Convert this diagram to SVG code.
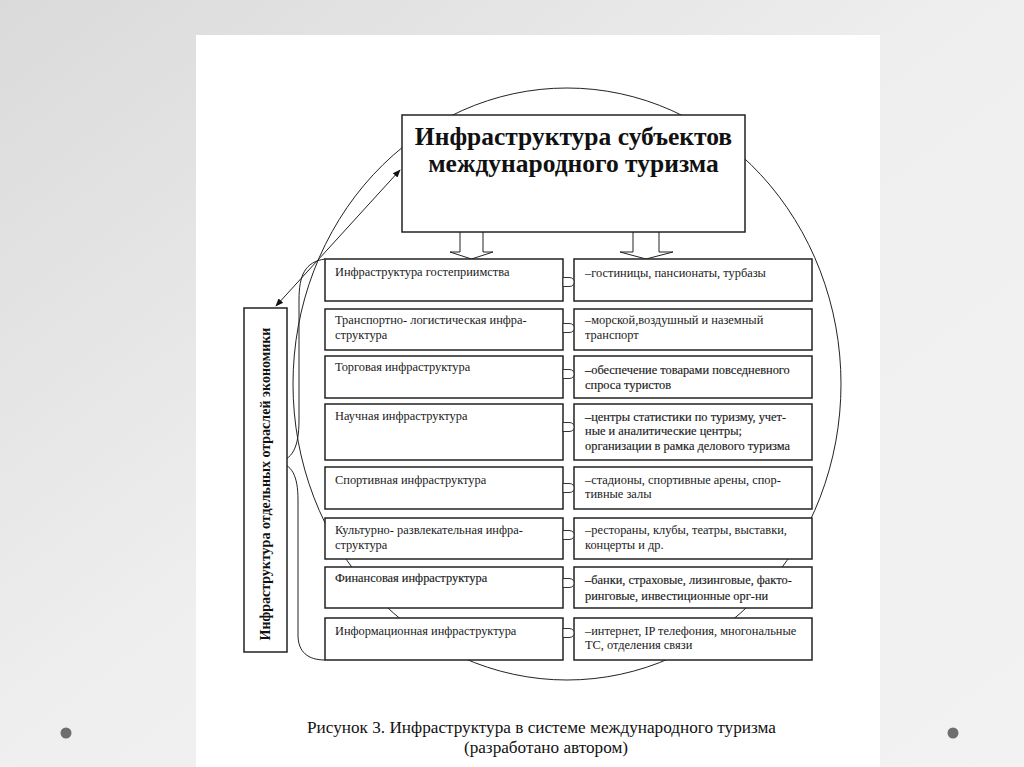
<svg xmlns="http://www.w3.org/2000/svg" width="1024" height="767" viewBox="0 0 1024 767">
  <defs>
    <linearGradient id="bg" x1="0" y1="0" x2="1" y2="1">
      <stop offset="0" stop-color="#dadada"/>
      <stop offset="0.5" stop-color="#efefef"/>
      <stop offset="1" stop-color="#f2f2f2"/>
    </linearGradient>
    <marker id="ah" viewBox="0 0 10 10" refX="9" refY="5" markerWidth="8" markerHeight="8" orient="auto-start-reverse" markerUnits="userSpaceOnUse">
      <path d="M0,1 L10,5 L0,9 Z" fill="#111"/>
    </marker>
    <style>
      .box { fill: #ffffff; stroke: #222; stroke-width: 1.5; }
      .tab { fill: #ffffff; stroke: #333; stroke-width: 1; }
      .ln { fill: none; stroke: #222; stroke-width: 1; }
      .t { font-family: "Liberation Serif", "Times New Roman", serif; font-size: 12.4px; fill: #1a1a1a; }
      .dk { stroke: #1a1a1a; stroke-width: 0.15; }
      .title { font-family: "Liberation Serif", "Times New Roman", serif; font-size: 25.5px; font-weight: bold; fill: #111; text-anchor: middle; }
      .vt { font-family: "Liberation Serif", "Times New Roman", serif; font-size: 14px; font-weight: bold; fill: #111; text-anchor: middle; }
      .cap { font-family: "Liberation Serif", "Times New Roman", serif; font-size: 17.2px; fill: #111; text-anchor: middle; }
    </style>
  </defs>

  <rect x="0" y="0" width="1024" height="767" fill="url(#bg)"/>
  <rect x="196" y="35" width="684" height="732" fill="#ffffff"/>
  <circle cx="66" cy="733" r="5.5" fill="#6e6e6e"/>
  <circle cx="953" cy="733" r="5.5" fill="#6e6e6e"/>

  <g id="connectors">
    <ellipse cx="567" cy="384" rx="274" ry="296" class="ln"/>
    <path class="ln" d="M325,259 C305,262 299,275 299,300 L299,420 C299,448 292,460 277,462"/>
    <path class="ln" d="M277,462 C292,464 298,476 298,500 L298,635 C298,652 308,660 325,660"/>
    <line class="ln" x1="400" y1="170" x2="276" y2="306" marker-start="url(#ah)" marker-end="url(#ah)"/>
    <path class="ln" d="M460,232 V252 H450 L471.5,259 L493,252 H483 V232" fill="#fff"/>
    <path class="ln" d="M633,232 V252 H620 L646,259 L673,252 H659 V232" fill="#fff"/>
  </g>

  <g id="top">
    <rect class="box" x="402" y="115" width="343" height="117"/>
    <text class="title" x="573.5" y="145">Инфраструктура субъектов</text>
    <text class="title" x="573.5" y="172">международного туризма</text>
  </g>

  <g id="side">
    <rect class="box" x="244" y="308" width="43" height="344"/>
    <text class="vt" transform="translate(270,484) rotate(-90)">Инфраструктура отдельных отраслей экономики</text>
  </g>

  <g id="row1">
    <rect class="box" x="325" y="259" width="238" height="42"/>
    <rect class="box" x="574" y="259" width="238" height="42"/>
    <path class="tab" d="M563,277.5 H569 Q574,277.5 574,282 Q574,286.5 569,286.5 H563 Z"/>
    <text class="t" x="335" y="275.5">Инфраструктура гостеприимства</text>
    <text class="t" x="585" y="276.5">–гостиницы, пансионаты, турбазы</text>
  </g>
  <g id="row2">
    <rect class="box" x="325" y="309" width="238" height="41"/>
    <rect class="box" x="574" y="309" width="238" height="41"/>
    <path class="tab" d="M563,323.5 H569 Q574,323.5 574,328 Q574,332.5 569,332.5 H563 Z"/>
    <text class="t" x="335" y="324">Транспортно- логистическая инфра-</text>
    <text class="t" x="335" y="338.5">структура</text>
    <text class="t" x="585" y="324">–морской,воздушный и наземный</text>
    <text class="t" x="585" y="338.5">транспорт</text>
  </g>
  <g id="row3">
    <rect class="box" x="325" y="356" width="238" height="42"/>
    <rect class="box" x="574" y="356" width="238" height="42"/>
    <path class="tab" d="M563,369.5 H569 Q574,369.5 574,374 Q574,378.5 569,378.5 H563 Z"/>
    <text class="t" x="335" y="371">Торговая инфраструктура</text>
    <text class="t dk" x="585" y="374">–обеспечение товарами повседневного</text>
    <text class="t dk" x="585" y="388.5">спроса туристов</text>
  </g>
  <g id="row4">
    <rect class="box" x="325" y="404" width="238" height="56"/>
    <rect class="box" x="574" y="404" width="238" height="56"/>
    <path class="tab" d="M563,422.5 H569 Q574,422.5 574,427 Q574,431.5 569,431.5 H563 Z"/>
    <text class="t" x="335" y="420">Научная инфраструктура</text>
    <text class="t dk" x="585" y="420.5">–центры статистики по туризму, учет-</text>
    <text class="t dk" x="585" y="435">ные и аналитические центры;</text>
    <text class="t dk" x="585" y="449.5">организации в рамка делового туризма</text>
  </g>
  <g id="row5">
    <rect class="box" x="325" y="467" width="238" height="42"/>
    <rect class="box" x="574" y="467" width="238" height="42"/>
    <path class="tab" d="M563,483.5 H569 Q574,483.5 574,488 Q574,492.5 569,492.5 H563 Z"/>
    <text class="t" x="335" y="483.5">Спортивная инфраструктура</text>
    <text class="t" x="585" y="483.5">–стадионы, спортивные арены, спор-</text>
    <text class="t" x="585" y="498">тивные залы</text>
  </g>
  <g id="row6">
    <rect class="box" x="325" y="518" width="238" height="41"/>
    <rect class="box" x="574" y="518" width="238" height="41"/>
    <path class="tab" d="M563,530.5 H569 Q574,530.5 574,535 Q574,539.5 569,539.5 H563 Z"/>
    <text class="t" x="335" y="533.5">Культурно- развлекательная инфра-</text>
    <text class="t" x="335" y="549">структура</text>
    <text class="t" x="585" y="533.5">–рестораны, клубы, театры, выставки,</text>
    <text class="t" x="585" y="549">концерты и др.</text>
  </g>
  <g id="row7">
    <rect class="box" x="325" y="567" width="238" height="41"/>
    <rect class="box" x="574" y="567" width="238" height="41"/>
    <path class="tab" d="M563,578.5 H569 Q574,578.5 574,583 Q574,587.5 569,587.5 H563 Z"/>
    <text class="t dk" x="335" y="582">Финансовая инфраструктура</text>
    <text class="t dk" x="585" y="584">–банки, страховые, лизинговые, факто-</text>
    <text class="t dk" x="585" y="600">ринговые, инвестиционные орг-ни</text>
  </g>
  <g id="row8">
    <rect class="box" x="325" y="618" width="238" height="42"/>
    <rect class="box" x="574" y="618" width="238" height="42"/>
    <path class="tab" d="M563,628.5 H569 Q574,628.5 574,633 Q574,637.5 569,637.5 H563 Z"/>
    <text class="t" x="335" y="634.5">Информационная инфраструктура</text>
    <text class="t" x="585" y="634.5">–интернет, IP телефония, многональные</text>
    <text class="t" x="585" y="649">ТС, отделения связи</text>
  </g>

  <g id="caption">
    <text class="cap" x="541.5" y="733">Рисунок 3. Инфраструктура в системе международного туризма</text>
    <text class="cap" x="546" y="753">(разработано автором)</text>
  </g>
</svg>
